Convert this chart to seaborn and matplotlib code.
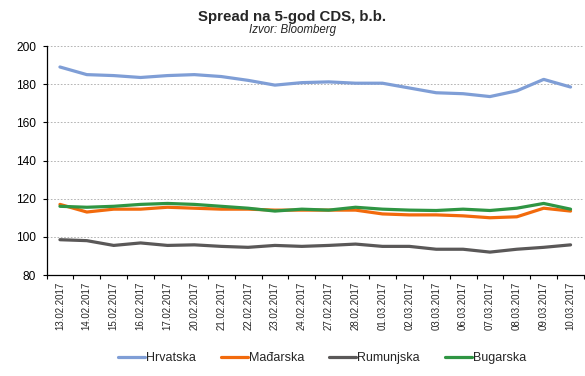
import numpy as np
import pandas as pd
import matplotlib
matplotlib.use("Agg")
import matplotlib.pyplot as plt
import seaborn as sns
from matplotlib.ticker import FixedLocator, NullFormatter

dates = ["13.02.2017", "14.02.2017", "15.02.2017", "16.02.2017", "17.02.2017",
         "20.02.2017", "21.02.2017", "22.02.2017", "23.02.2017", "24.02.2017",
         "27.02.2017", "28.02.2017", "01.03.2017", "02.03.2017", "03.03.2017",
         "06.03.2017", "07.03.2017", "08.03.2017", "09.03.2017", "10.03.2017"]

hrvatska = [189.0, 185.0, 184.5, 183.5, 184.5, 185.0, 184.0, 182.0, 179.5, 180.8,
            181.2, 180.5, 180.5, 178.0, 175.5, 175.0, 173.5, 176.5, 182.5, 178.5]
madarska = [117.0, 113.0, 114.5, 114.5, 115.5, 115.0, 114.5, 114.5, 114.0, 114.0,
            114.0, 114.0, 112.0, 111.5, 111.5, 111.0, 110.0, 110.5, 115.0, 113.5]
rumunjska = [98.5, 98.0, 95.5, 96.8, 95.5, 95.8, 95.0, 94.5, 95.5, 95.0,
             95.5, 96.2, 95.0, 95.0, 93.5, 93.5, 92.0, 93.5, 94.5, 95.8]
bugarska = [116.0, 115.5, 116.0, 117.0, 117.5, 117.0, 116.0, 115.0, 113.5, 114.5,
            114.0, 115.5, 114.5, 114.0, 113.8, 114.5, 113.8, 115.0, 117.5, 114.5]

series_names = ["Hrvatska", "Mađarska", "Rumunjska", "Bugarska"]
colors = ["#7F9ED6", "#F26A0C", "#5A5858", "#2F9543"]

sns.set_theme(style="white")
plt.rcParams["font.family"] = ["Liberation Sans", "DejaVu Sans"]

rows = []
for name, vals in zip(series_names, [hrvatska, madarska, rumunjska, bugarska]):
    for i, v in enumerate(vals):
        rows.append({"idx": i, "value": v, "series": name})
df = pd.DataFrame(rows)

fig = plt.figure(figsize=(5.85, 3.76), dpi=100)
ax = fig.add_axes([46.5 / 585, 1 - 275 / 376, (584 - 46.5) / 585, (275 - 46) / 376])

sns.lineplot(data=df, x="idx", y="value", hue="series", hue_order=series_names,
             palette=dict(zip(series_names, colors)), linewidth=2.3, ax=ax,
             sort=False, legend=True)

ax.set_xlim(-0.5, len(dates) - 0.5)
ax.set_ylim(80, 200)
ax.set_yticks(np.arange(80, 201, 20))
ax.tick_params(axis="y", labelsize=8.6, length=3, width=0.8, direction="out",
               left=True, pad=4.5, colors="black")
ax.yaxis.grid(True, linestyle=(0, (2, 2)), color="#a8a8a8", linewidth=0.6)
ax.xaxis.grid(False)

ax.set_xticks(range(len(dates)))
ax.set_xticklabels(dates, rotation=90, fontsize=7)
ax.tick_params(axis="x", which="major", length=0, pad=5)
ax.xaxis.set_minor_locator(FixedLocator(np.arange(-0.5, len(dates), 1.0)))
ax.xaxis.set_minor_formatter(NullFormatter())
ax.tick_params(axis="x", which="minor", length=3, width=0.8, bottom=True,
               direction="out", color="black")

for s in ["top", "right"]:
    ax.spines[s].set_visible(False)
for s in ["left", "bottom"]:
    ax.spines[s].set_color("black")
    ax.spines[s].set_linewidth(0.9)

ax.set_xlabel("")
ax.set_ylabel("")

leg = ax.legend(loc="center", bbox_to_anchor=((322 - 46.5) / (584 - 46.5), -(358 - 275) / (275 - 46)),
                ncol=4, frameon=False, fontsize=9, handlelength=2.15,
                handletextpad=0.1, columnspacing=2.0)
for line in leg.get_lines():
    line.set_linewidth(2.3)

fig.text(0.5, 1 - 17 / 376, "Spread na 5-god CDS, b.b.", ha="center", va="center",
         fontsize=10.8, fontweight="bold")
fig.text(0.5, 1 - 29.5 / 376, "Izvor: Bloomberg", ha="center", va="center",
         fontsize=8.3, style="italic")

fig.savefig("out.png", dpi=100)
